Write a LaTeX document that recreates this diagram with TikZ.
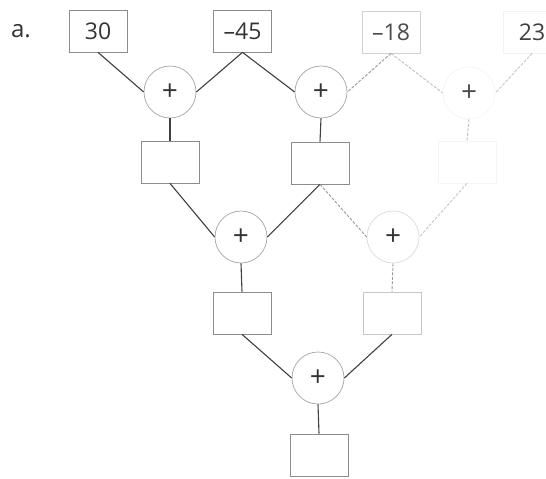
\documentclass[tikz,border=0pt]{standalone}
\usepackage{fontspec}
\setmainfont{Open Sans}
\begin{document}
\begin{tikzpicture}[x=1pt,y=-1pt,
  numbox/.style={draw=black!45, line width=0.7pt, minimum width=58pt, minimum height=42pt, inner sep=0pt, text=black!80, font=\fontsize{23}{26}\selectfont},
  faintbox/.style={numbox, draw=black!#1},
  opcircle/.style={circle, draw=black!35, line width=0.7pt, minimum size=52pt, inner sep=0pt, text=black!80, font=\fontsize{28}{30}\selectfont},
  faintcircle/.style={opcircle, draw=black!#1},
  wire/.style={draw=black!75, line width=1.1pt},
  faintwire/.style={draw=black!#1, line width=0.9pt, dash pattern=on 3pt off 1.5pt}
]
\fill[white] (0,0) rectangle (546,479);
\useasboundingbox (0,0) rectangle (546,479);

\node[text=black!80, font=\fontsize{24}{26}\selectfont] (lab) at (21,31) {a.};

% top row of numbers
\node[numbox] (b30) at (98,31) {30};
\node[numbox] (b45) at (242.5,31) {–45};
\node[faintbox=18, text=black!70] (b18) at (391,32) {–18};
\node[faintbox=5, text=black!75] (b23) at (532,32) {23};

% first row of sums
\node[opcircle] (c1) at (170,92) {+};
\node[opcircle] (c2) at (321,92) {+};
\node[faintcircle=4, text=black!70] (c3) at (469,93) {+};

\node[numbox] (r1a) at (170,162) {};
\node[numbox] (r1b) at (320,163) {};
\node[faintbox=4] (r1c) at (467,162) {};

% second row of sums
\node[opcircle] (c4) at (241,237) {+};
\node[faintcircle=14] (c5) at (393,237) {+};

\node[numbox] (r2a) at (242,313) {};
\node[faintbox=22] (r2b) at (392,313) {};

% last sum
\node[opcircle] (c6) at (318,378) {+};
\node[numbox] (r3) at (319,455) {};

% connectors
\draw[wire] (b30.south) -- (c1.west);
\draw[wire] (b45.south) -- (c1.east);
\draw[wire] (b45.south) -- (c2.west);
\draw[faintwire=40] (b18.south) -- (c2.east);
\draw[faintwire=25] (b18.south) -- (c3.west);
\draw[faintwire=22] (b23.south) -- (c3.east);

\draw[wire] (c1.south) -- (r1a.north);
\draw[wire] (c2.south) -- (r1b.north);
\draw[faintwire=25] (c3.south) -- (r1c.north);

\draw[wire] (r1a.south) -- (c4.west);
\draw[wire] (r1b.south) -- (c4.east);
\draw[faintwire=40] (r1b.south) -- (c5.west);
\draw[faintwire=22] (r1c.south) -- (c5.east);

\draw[wire] (c4.south) -- (r2a.north);
\draw[faintwire=40] (c5.south) -- (r2b.north);

\draw[wire] (r2a.south) -- (c6.west);
\draw[wire] (r2b.south) -- (c6.east);
\draw[wire] (c6.south) -- (r3.north);
\end{tikzpicture}
\end{document}
